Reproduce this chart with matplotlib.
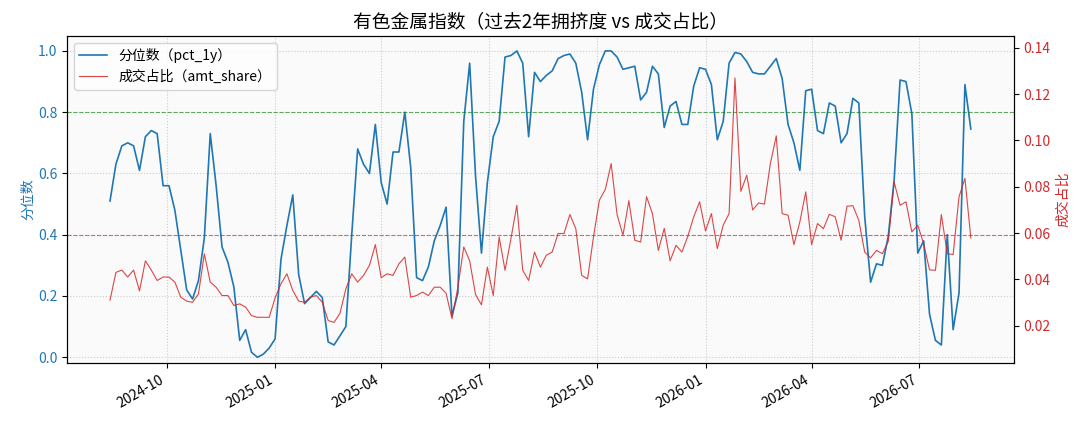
import numpy as np
import pandas as pd
import matplotlib
matplotlib.use("Agg")
import matplotlib.pyplot as plt
import matplotlib.dates as mdates

plt.rcParams['font.family'] = ['Noto Sans CJK SC', 'DejaVu Sans']
plt.rcParams['axes.unicode_minus'] = False

# 日期：每5天取一个点
start_date = '2024-08-14'
step_days = 5

# 分位数（pct_1y）
pct_1y = [
    0.51, 0.63, 0.69, 0.70, 0.69, 0.61, 0.72, 0.74, 0.73, 0.56,
    0.56, 0.48, 0.35, 0.22, 0.19, 0.25, 0.39, 0.73, 0.56, 0.36,
    0.31, 0.23, 0.055, 0.09, 0.016, 0.0, 0.01, 0.03, 0.06, 0.32,
    0.43, 0.53, 0.27, 0.175, 0.195, 0.215, 0.195, 0.05, 0.04, 0.07,
    0.10, 0.40, 0.68, 0.63, 0.60, 0.76, 0.57, 0.50, 0.67, 0.67,
    0.80, 0.62, 0.26, 0.25, 0.295, 0.38, 0.43, 0.49, 0.135, 0.21,
    0.77, 0.96, 0.59, 0.34, 0.57, 0.72, 0.77, 0.98, 0.985, 1.0,
    0.96, 0.72, 0.93, 0.90, 0.92, 0.935, 0.975, 0.985, 0.99, 0.96,
    0.865, 0.71, 0.875, 0.955, 1.0, 1.0, 0.98, 0.94, 0.945, 0.95,
    0.84, 0.865, 0.95, 0.925, 0.75, 0.82, 0.835, 0.76, 0.76, 0.885,
    0.945, 0.94, 0.89, 0.71, 0.77, 0.96, 0.995, 0.99, 0.965, 0.93,
    0.925, 0.925, 0.95, 0.975, 0.91, 0.76, 0.70, 0.61, 0.87, 0.875,
    0.74, 0.73, 0.83, 0.82, 0.70, 0.73, 0.845, 0.83, 0.46, 0.245,
    0.305, 0.30, 0.395, 0.58, 0.905, 0.90, 0.795, 0.34, 0.38, 0.14,
    0.055, 0.04, 0.40, 0.09, 0.21, 0.89, 0.745,
]

# 成交占比（amt_share）
amt_share = [
    0.031, 0.043, 0.044, 0.041, 0.044, 0.035, 0.048, 0.044, 0.0395, 0.041,
    0.041, 0.0388, 0.0323, 0.0306, 0.0301, 0.0337, 0.051, 0.0388, 0.0366, 0.033,
    0.033, 0.0287, 0.0294, 0.028, 0.0243, 0.0236, 0.0236, 0.0236, 0.032, 0.0381,
    0.0424, 0.0352, 0.0306, 0.0301, 0.0323, 0.033, 0.0301, 0.0222, 0.0214, 0.0253,
    0.0359, 0.0424, 0.0388, 0.0417, 0.046, 0.055, 0.0407, 0.0424, 0.0417, 0.0467,
    0.0496, 0.0323, 0.033, 0.0345, 0.033, 0.0366, 0.0366, 0.034, 0.023, 0.0366,
    0.054, 0.048, 0.0334, 0.029, 0.0453, 0.033, 0.0583, 0.0439, 0.0576, 0.072,
    0.0439, 0.0395, 0.0518, 0.0453, 0.0504, 0.0518, 0.0598, 0.0598, 0.068, 0.0619,
    0.0417, 0.0402, 0.0583, 0.0742, 0.0788, 0.090, 0.068, 0.059, 0.074, 0.0569,
    0.0561, 0.0757, 0.0684, 0.0525, 0.062, 0.048, 0.0547, 0.0518, 0.0586, 0.067,
    0.0735, 0.0609, 0.0684, 0.0533, 0.0634, 0.0684, 0.127, 0.078, 0.085, 0.070,
    0.073, 0.0725, 0.090, 0.102, 0.0684, 0.0677, 0.055, 0.0648, 0.0778, 0.055,
    0.0641, 0.0619, 0.0681, 0.067, 0.0569, 0.0716, 0.0718, 0.0655, 0.0518, 0.0493,
    0.0525, 0.0511, 0.0564, 0.082, 0.072, 0.0735, 0.0605, 0.0634, 0.0554, 0.0441,
    0.0439, 0.068, 0.0511, 0.0507, 0.0757, 0.0836, 0.0579,
]

dates = pd.date_range(start_date, periods=len(pct_1y), freq=f'{step_days}D')

blue = '#1f77b4'
red = '#d62728'

fig, ax1 = plt.subplots(figsize=(10.89, 4.29), dpi=100)
fig.subplots_adjust(left=0.0615, right=0.931, top=0.917, bottom=0.153)
ax1.set_facecolor('#fafafa')

l1, = ax1.plot(dates, pct_1y, color=blue, lw=1.2, label='分位数（pct_1y）')
ax1.axhline(0.8, color='green', ls='--', lw=0.8, alpha=0.6)
ax1.axhline(0.4, color='red', ls='--', lw=0.8, alpha=0.6)
ax1.set_ylim(-0.02, 1.05)
ax1.set_ylabel('分位数', color=blue, labelpad=2)
ax1.tick_params(axis='y', labelcolor=blue)
ax1.grid(True, ls=':', color='#cccccc', lw=0.8)

ax2 = ax1.twinx()
l2, = ax2.plot(dates, amt_share, color=red, lw=0.8, alpha=0.85, label='成交占比（amt_share）')
ax2.set_ylim(0.0037, 0.1453)
ax2.set_ylabel('成交占比', color=red)
ax2.tick_params(axis='y', labelcolor=red)

ax1.xaxis.set_major_locator(mdates.MonthLocator(bymonth=[1, 4, 7, 10]))
ax1.xaxis.set_major_formatter(mdates.DateFormatter('%Y-%m'))
for lab in ax1.get_xticklabels():
    lab.set_rotation(30)
    lab.set_ha('right')

ax1.legend(handles=[l1, l2], loc='upper left', fontsize=10)
ax1.set_title('有色金属指数（过去2年拥挤度 vs 成交占比）', fontsize=13.5)

fig.savefig('out.png', dpi=100)
